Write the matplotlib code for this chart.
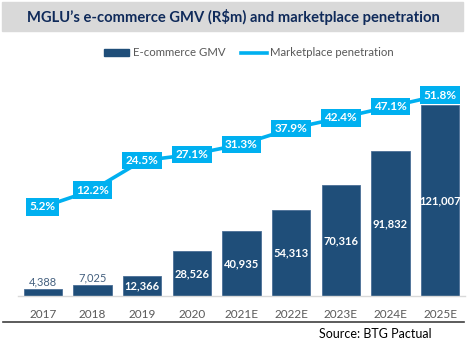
import matplotlib
matplotlib.use("Agg")
import matplotlib.pyplot as plt
from matplotlib.lines import Line2D
from matplotlib.patches import Patch, Rectangle

plt.rcParams['font.family'] = ['Lato', 'DejaVu Sans']

# data
years = ['2017', '2018', '2019', '2020', '2021E', '2022E', '2023E', '2024E', '2025E']
gmv = [4388, 7025, 12366, 28526, 40935, 54313, 70316, 91832, 121007]
penetration = [5.2, 12.2, 24.5, 27.1, 31.3, 37.9, 42.4, 47.1, 51.8]

BAR = '#1f4e79'
LINE = '#00b0f0'
GREY = '#595959'

W, H = 467, 355
fig = plt.figure(figsize=(W / 100, H / 100), dpi=100)

# title bar
fig.patches.append(Rectangle((2 / W, 1 - 31 / H), 461 / W, 29 / H,
                             transform=fig.transFigure, color='#d9d9d9', zorder=0))
fig.text(233 / W, 1 - 17 / H, 'MGLU\u2019s e-commerce GMV (R$m) and marketplace penetration',
         ha='center', va='center', fontsize=10.6, fontweight='bold', color='#0f2a5a')

ax = fig.add_axes([18 / W, 1 - 296 / H, 447 / W, 226 / H])
x = list(range(len(years)))
ax.bar(x, gmv, width=0.77, color=BAR, edgecolor='#4a6f96', linewidth=0.6, zorder=2)
ax.set_xlim(-0.5, 8.5)
ax.set_ylim(0, 143200)
ax.set_xticks(x)
ax.set_xticklabels(years, fontsize=8.5, color=GREY)
ax.tick_params(length=0, pad=9)
ax.set_yticks([])
for s in ['top', 'right', 'left']:
    ax.spines[s].set_visible(False)
ax.spines['bottom'].set_color('#d9d9d9')
ax.spines['bottom'].set_linewidth(1.0)

for xi, v in zip(x, gmv):
    label = f'{v:,}'
    if v < 10000:
        ax.text(xi, v + 800, label, ha='center', va='bottom', fontsize=8, color='#44607f')
    else:
        ax.text(xi, v / 2, label, ha='center', va='center', fontsize=8,
                color='white', fontweight='bold')

ax2 = ax.twinx()
ax2.set_ylim(-31.9, 62.3)
ax2.set_axis_off()
ax2.plot(x, penetration, color=LINE, linewidth=2.6, zorder=3)
for xi, p in zip(x, penetration):
    ax2.text(xi, p, f'{p:.1f}%', ha='center', va='center', fontsize=8.5,
             color='white', fontweight='bold', zorder=4,
             bbox=dict(boxstyle='square,pad=0.28', facecolor=LINE, edgecolor='none'))

handles = [Patch(facecolor=BAR, edgecolor=BAR),
           Line2D([0], [0], color=LINE, linewidth=2.6)]
fig.legend(handles, ['E-commerce GMV', 'Marketplace penetration'],
           loc='center', bbox_to_anchor=(249 / W, 1 - 53 / H), ncol=2, frameon=False,
           fontsize=8.2, labelcolor=GREY, handlelength=2.2, handleheight=0.5,
           handletextpad=0.3, columnspacing=1.4)

# bottom rule and source
fig.add_artist(Line2D([3 / W, 464 / W], [1 - 322 / H, 1 - 322 / H],
                      transform=fig.transFigure, color='#404040', linewidth=1.2))
fig.text(432 / W, 1 - 334 / H, 'Source: BTG Pactual', ha='right', va='center',
         fontsize=9, color='black')

fig.savefig('out.png', dpi=100)
